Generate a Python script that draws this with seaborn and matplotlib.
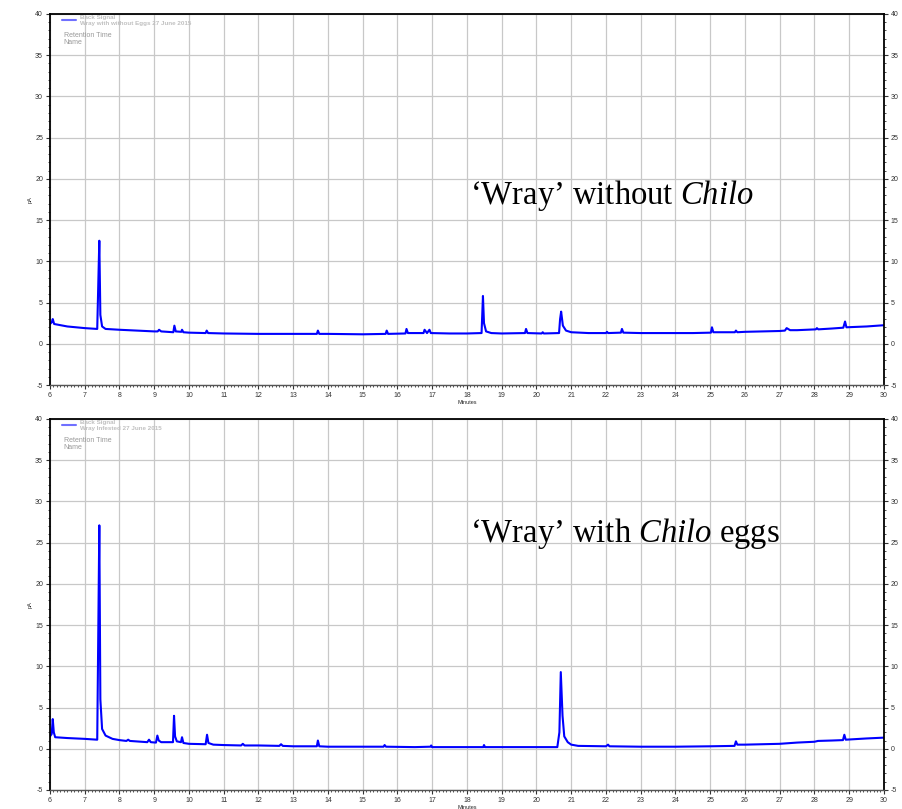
import numpy as np
import pandas as pd
import matplotlib.pyplot as plt
import seaborn as sns
from matplotlib.ticker import MultipleLocator

sns.set_style('white')
plt.rcParams['font.family'] = ['Liberation Sans', 'DejaVu Sans']
plt.rcParams['axes.unicode_minus'] = False
plt.rcParams['mathtext.fontset'] = 'custom'
plt.rcParams['mathtext.rm'] = 'Liberation Serif'
plt.rcParams['mathtext.it'] = 'Liberation Serif:italic'

# trace: retention time (min) and signal
time_without = [6.00, 6.05, 6.08, 6.12, 6.50, 7.00, 7.36, 7.40, 7.42, 7.45, 7.50, 7.60,
                8.00, 8.50, 9.00, 9.10, 9.14, 9.20, 9.55, 9.58, 9.62, 9.78, 9.80, 9.84,
                10.00, 10.48, 10.51, 10.55, 11.00, 12.00, 13.00, 13.68, 13.71, 13.75,
                14.00, 15.00, 15.66, 15.69, 15.73, 16.23, 16.26, 16.30, 16.75, 16.78,
                16.85, 16.92, 16.96, 17.50, 18.00, 18.42, 18.46, 18.49, 18.55, 18.70,
                19.00, 19.67, 19.70, 19.74, 20.15, 20.18, 20.21, 20.65, 20.68, 20.71,
                20.76, 20.85, 21.00, 21.50, 22.00, 22.03, 22.06, 22.43, 22.46, 22.50,
                23.00, 24.00, 24.50, 25.02, 25.05, 25.09, 25.71, 25.74, 25.78, 26.00,
                26.50, 27.00, 27.15, 27.20, 27.30, 27.50, 28.04, 28.07, 28.11, 28.50,
                28.83, 28.88, 28.92, 29.50, 30.00]
signal_without = [2.4, 2.6, 3.0, 2.4, 2.1, 1.9, 1.8, 9.0, 12.5, 3.5, 2.1, 1.8,
                  1.7, 1.6, 1.5, 1.5, 1.7, 1.5, 1.4, 2.2, 1.5, 1.45, 1.7, 1.4,
                  1.35, 1.3, 1.6, 1.3, 1.25, 1.2, 1.2, 1.2, 1.6, 1.2,
                  1.2, 1.15, 1.2, 1.6, 1.2, 1.25, 1.8, 1.3, 1.3, 1.7,
                  1.3, 1.7, 1.3, 1.25, 1.25, 1.3, 5.8, 2.5, 1.5, 1.3,
                  1.25, 1.3, 1.8, 1.3, 1.25, 1.4, 1.25, 1.3, 3.0, 3.9,
                  2.2, 1.6, 1.4, 1.3, 1.3, 1.45, 1.3, 1.35, 1.8, 1.35,
                  1.3, 1.3, 1.3, 1.35, 2.0, 1.4, 1.4, 1.6, 1.4, 1.45,
                  1.5, 1.55, 1.6, 1.9, 1.65, 1.65, 1.75, 1.9, 1.75, 1.85,
                  1.95, 2.7, 2.0, 2.1, 2.25]

time_with = [6.00, 6.05, 6.08, 6.11, 6.15, 6.50, 7.00, 7.36, 7.39, 7.42, 7.45, 7.50,
             7.60, 7.80, 8.00, 8.20, 8.25, 8.30, 8.80, 8.85, 8.90, 9.05, 9.09, 9.13,
             9.20, 9.54, 9.57, 9.60, 9.65, 9.77, 9.80, 9.84, 10.00, 10.48, 10.52,
             10.56, 10.70, 11.00, 11.50, 11.55, 11.60, 12.00, 12.60, 12.65, 12.70,
             13.00, 13.68, 13.71, 13.75, 14.00, 15.00, 15.60, 15.63, 15.67, 16.50,
             16.95, 16.97, 17.00, 18.00, 18.47, 18.49, 18.52, 19.00, 20.00, 20.60,
             20.66, 20.70, 20.75, 20.80, 20.90, 21.00, 21.20, 22.00, 22.06, 22.10,
             23.00, 24.00, 25.00, 25.70, 25.74, 25.78, 26.00, 26.50, 27.00, 27.50,
             28.00, 28.10, 28.50, 28.82, 28.86, 28.90, 29.50, 30.00]
signal_with = [1.5, 1.8, 3.6, 2.0, 1.4, 1.3, 1.2, 1.1, 14.0, 27.1, 6.0, 2.4,
               1.6, 1.2, 1.05, 0.95, 1.1, 0.95, 0.8, 1.1, 0.8, 0.75, 1.6, 1.0,
               0.8, 0.8, 4.0, 1.5, 0.9, 0.8, 1.4, 0.7, 0.6, 0.55, 1.7,
               0.7, 0.5, 0.45, 0.4, 0.6, 0.4, 0.4, 0.35, 0.55, 0.35,
               0.3, 0.3, 1.0, 0.3, 0.25, 0.25, 0.25, 0.45, 0.25, 0.2,
               0.25, 0.4, 0.2, 0.2, 0.2, 0.45, 0.2, 0.2, 0.2, 0.2,
               2.0, 9.3, 4.0, 1.5, 0.8, 0.5, 0.35, 0.3, 0.5, 0.3,
               0.25, 0.25, 0.3, 0.35, 0.9, 0.5, 0.5, 0.55, 0.6, 0.75,
               0.85, 0.95, 1.0, 1.05, 1.7, 1.1, 1.25, 1.35]

legend_titles = ['Wray with without Eggs 27 June 2015', 'Wray Infested 27 June 2015']
sample_labels = [r"‘Wray’ without $\mathit{Chilo}$", r"‘Wray’ with $\mathit{Chilo}$ eggs"]
label_pos = [(18.1, 16.9), (18.1, 25.1)]

fig = plt.figure(figsize=(9.02, 8.09), dpi=100)
ax1 = fig.add_axes([0.0554, 0.5241, 0.9246, 0.4586])
ax2 = fig.add_axes([0.0554, 0.0235, 0.9246, 0.4586])

traces = [(time_without, signal_without), (time_with, signal_with)]

for ax, (t, s), title, lab, pos in zip([ax1, ax2], traces, legend_titles, sample_labels, label_pos):
    df = pd.DataFrame({'Minutes': t, 'Signal': s})
    sns.lineplot(data=df, x='Minutes', y='Signal', ax=ax, color='#0000ff', lw=1.5,
                 sort=False, label='Back Signal\n' + title)
    ax.set_xlim(6, 30)
    ax.set_ylim(-5, 40)
    ax.xaxis.set_major_locator(MultipleLocator(1))
    ax.xaxis.set_minor_locator(MultipleLocator(0.1))
    ax.yaxis.set_major_locator(MultipleLocator(5))
    ax.yaxis.set_minor_locator(MultipleLocator(1))
    ax.grid(True, which='major', color='#c8c8c8', lw=0.9)
    ax.tick_params(which='both', direction='out', labelsize=5, colors='#333333',
                   left=True, right=True, bottom=True, labelright=True, pad=2)
    ax.tick_params(which='major', length=3)
    ax.tick_params(which='minor', length=1.5)
    for side in ['top', 'left', 'right']:
        ax.spines[side].set_color('black')
        ax.spines[side].set_linewidth(1.3)
    ax.spines['bottom'].set_color('#555555')
    ax.spines['bottom'].set_linewidth(1.0)
    ax.set_xlabel('Minutes', fontsize=4, labelpad=1)
    ax.set_ylabel('pA', fontsize=4, labelpad=2)

    leg = ax.legend(loc='upper left', bbox_to_anchor=(0.008, 1.012), frameon=False,
                    fontsize=4.5, handlelength=2.2, handletextpad=0.6, labelspacing=0.2)
    for txt in leg.get_texts():
        txt.set_color('#c0c0c0')
        txt.set_fontweight('bold')
        txt.set_linespacing(1.1)
    for line in leg.get_lines():
        line.set_color('#7070ff')
    ax.text(0.0165, 0.941, 'Retention Time', transform=ax.transAxes, fontsize=5,
            color='#999999', va='center')
    ax.text(0.0165, 0.922, 'Name', transform=ax.transAxes, fontsize=5,
            color='#999999', va='center')

    ax.text(pos[0], pos[1], lab, fontsize=23.5, family='Liberation Serif',
            va='baseline', ha='left', color='black')

fig.savefig('out.png', dpi=100)
